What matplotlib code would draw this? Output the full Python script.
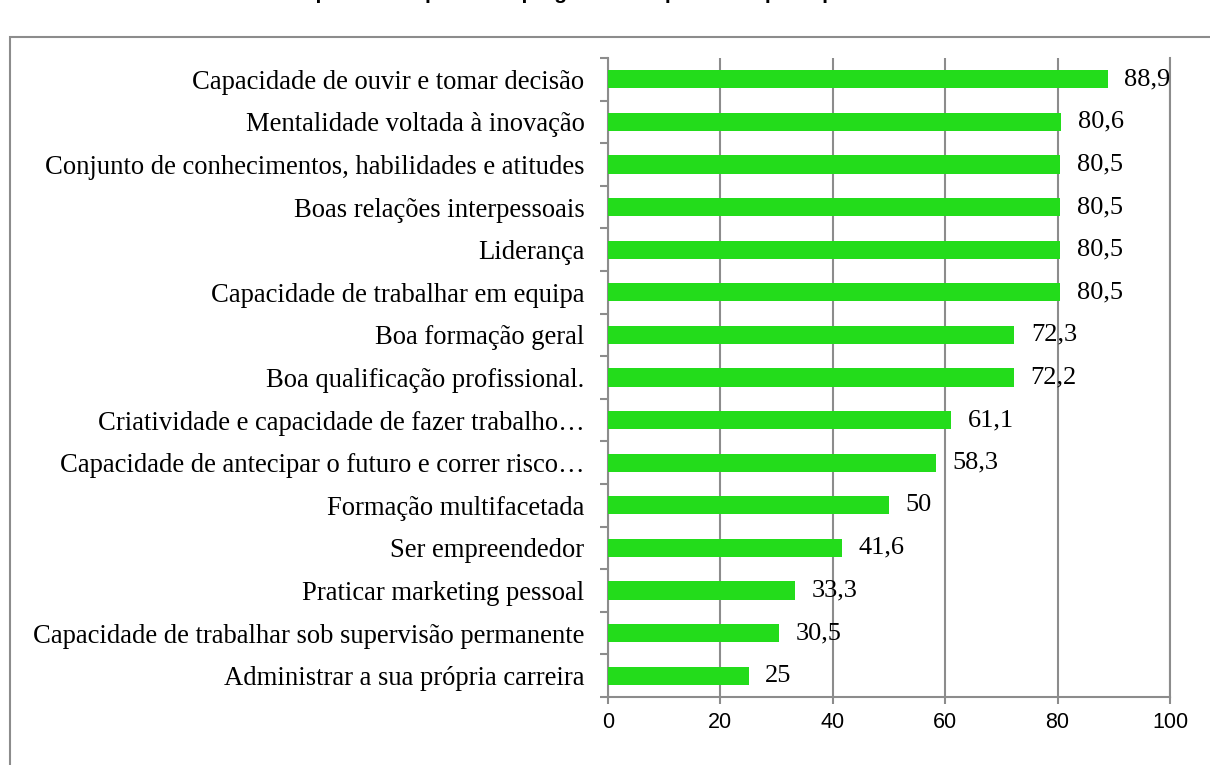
import matplotlib
matplotlib.use("Agg")
import matplotlib.pyplot as plt
from matplotlib.patches import Rectangle

categories = [
    "Capacidade de ouvir e tomar decisão",
    "Mentalidade voltada à inovação",
    "Conjunto de conhecimentos, habilidades e atitudes",
    "Boas relações interpessoais",
    "Liderança",
    "Capacidade de trabalhar em equipa",
    "Boa formação geral",
    "Boa qualificação profissional.",
    "Criatividade e capacidade de fazer trabalho…",
    "Capacidade de antecipar o futuro e correr risco…",
    "Formação multifacetada",
    "Ser empreendedor",
    "Praticar marketing pessoal",
    "Capacidade de trabalhar sob supervisão permanente",
    "Administrar a sua própria carreira",
]
values = [88.9, 80.6, 80.5, 80.5, 80.5, 80.5, 72.3, 72.2, 61.1, 58.3, 50, 41.6, 33.3, 30.5, 25]
value_labels = ["88,9", "80,6", "80,5", "80,5", "80,5", "80,5", "72,3", "72,2", "61,1", "58,3", "50", "41,6", "33,3", "30,5", "25"]
x_ticks = [0, 20, 40, 60, 80, 100]

W, H = 1210, 765
fig = plt.figure(figsize=(W / 100, H / 100), dpi=100)

# outer chart border (extends past right and bottom edges)
fig.patches.append(Rectangle((10 / W, -0.05), 1.1, (H - 37) / H + 0.05,
                             transform=fig.transFigure, fill=False,
                             edgecolor="#8c8c8c", linewidth=1.5))
# clipped title (only the descenders visible, as in the reference)
fig.text(0.5, 1 - 3 / H, "Competências que os empregadores esperam do perfil profissional",
         ha="center", va="bottom", fontsize=15, fontweight="bold",
         family="Liberation Sans")

ax = fig.add_axes([608 / W, 1 - 697 / H, (1170 - 608) / W, (697 - 58) / H])
n = len(categories)
ypos = list(range(n))
ax.barh(ypos, values, height=0.43, color="#23dc1b", zorder=3)
ax.set_ylim(n - 0.5, -0.5)
ax.set_xlim(0, 100)
ax.set_xticks(x_ticks)
ax.set_xticklabels([str(t) for t in x_ticks], family="Liberation Sans", fontsize=15.5)
ax.set_yticks(ypos)
ax.set_yticklabels(categories, family="Liberation Serif", fontsize=19.2)
ax.set_yticks([i + 0.5 for i in range(-1, n)], minor=True)
ax.tick_params(axis="y", which="major", length=0, pad=17)
ax.tick_params(axis="y", which="minor", length=6, color="#8c8c8c", width=1.5)
ax.tick_params(axis="x", length=5, color="#8c8c8c", width=1.5, pad=6)
ax.grid(axis="x", color="#8c8c8c", linewidth=1.5, zorder=0)
for s in ["left", "bottom", "right"]:
    ax.spines[s].set_color("#8c8c8c")
    ax.spines[s].set_linewidth(1.5)
ax.spines["top"].set_visible(False)

for y, v, lab in zip(ypos, values, value_labels):
    ax.annotate(lab, (v, y), xytext=(12, 0), textcoords="offset points",
                va="center", ha="left", family="Liberation Serif", fontsize=19, zorder=4)

fig.savefig("out.png", dpi=100)
